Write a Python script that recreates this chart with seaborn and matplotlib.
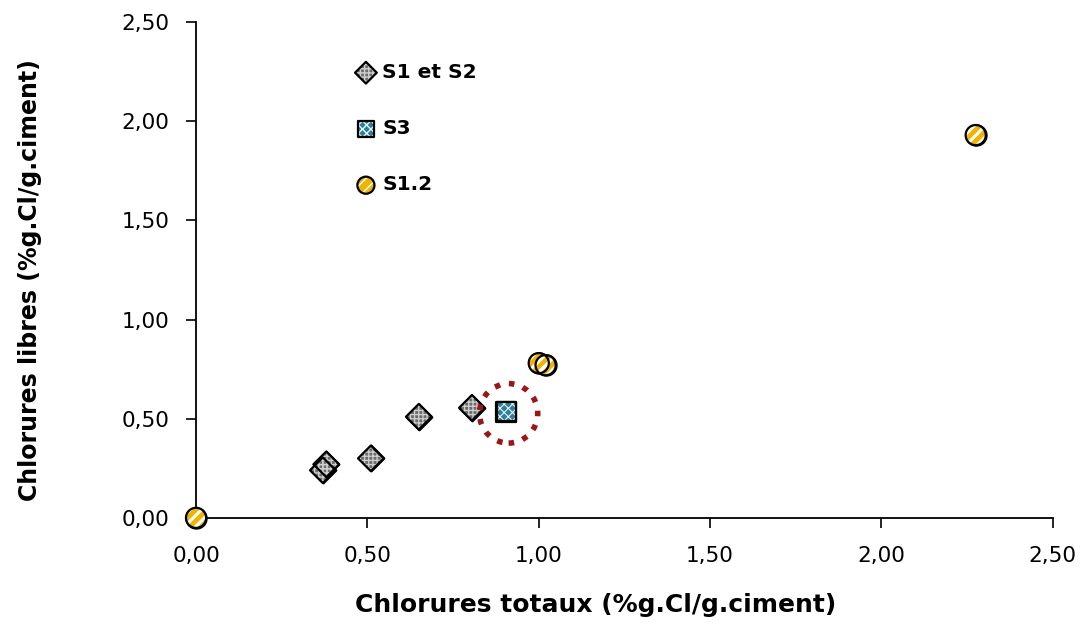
import matplotlib
matplotlib.use("Agg")
import matplotlib.pyplot as plt
import seaborn as sns
from matplotlib.ticker import FuncFormatter, MultipleLocator
from matplotlib.patches import Ellipse
from matplotlib.legend_handler import HandlerTuple

# data
s12_x = [0.37, 0.38, 0.51, 0.65, 0.805]
s12_y = [0.24, 0.27, 0.30, 0.51, 0.555]
s3_x = [0.905]
s3_y = [0.535]
s1_2_x = [0.0, 1.0, 1.02, 2.275]
s1_2_y = [0.0, 0.78, 0.77, 1.93]
labels = ["S1 et S2", "S3", "S1.2"]

sns.set_theme(style="white")
plt.rcParams['font.family'] = ['DejaVu Sans']
plt.rcParams['text.color'] = 'black'
plt.rcParams['axes.labelcolor'] = 'black'

fig = plt.figure(figsize=(10.91, 6.3), dpi=100)
ax = fig.add_axes([0.1797, 0.178, 0.7853, 0.787])


def series(x, y, marker, size, face, hatch, hatch_color, hatch_lw, z):
    h_fill = ax.scatter(x, y, marker=marker, s=size, facecolor=face, edgecolor='none',
                        linewidth=0, zorder=z, clip_on=False)
    with plt.rc_context({'hatch.color': hatch_color, 'hatch.linewidth': hatch_lw}):
        h_hatch = ax.scatter(x, y, marker=marker, s=size, facecolor='none',
                             edgecolor=hatch_color, linewidth=0, hatch=hatch,
                             zorder=z + 0.1, clip_on=False)
    h_edge = ax.scatter(x, y, marker=marker, s=size, facecolor='none', edgecolor='black',
                        linewidth=1.6, zorder=z + 0.2, clip_on=False)
    return (h_fill, h_hatch, h_edge)


# base layer drawn via seaborn
sns.scatterplot(x=s12_x, y=s12_y, ax=ax, marker="D", s=170, color="#6e6e6e",
                edgecolor="black", linewidth=1.6, zorder=2, legend=False, clip_on=False)
sns.scatterplot(x=s3_x, y=s3_y, ax=ax, marker="s", s=190, color="#2b7f99",
                edgecolor="black", linewidth=1.6, zorder=2, legend=False, clip_on=False)
sns.scatterplot(x=s1_2_x, y=s1_2_y, ax=ax, marker="o", s=210, color="#f0b400",
                edgecolor="black", linewidth=1.6, zorder=2, legend=False, clip_on=False)

h1 = series(s12_x, s12_y, "D", 170, "#6e6e6e", "++++", "#cfcfcf", 0.9, 3)
h2 = series(s3_x, s3_y, "s", 190, "#2b7f99", "xxxx", "#e8f4f8", 0.8, 3)
h3 = series(s1_2_x, s1_2_y, "o", 210, "#f0b400", "///", "white", 2.2, 3)

# dotted highlight circle around S3
circ = Ellipse((0.912, 0.527), width=0.17, height=0.30, fill=False,
               edgecolor="#9b1717", linewidth=4, linestyle=(0, (1, 1.6)),
               zorder=4, clip_on=False)
ax.add_patch(circ)

ax.set_xlim(0, 2.5)
ax.set_ylim(0, 2.5)
ax.xaxis.set_major_locator(MultipleLocator(0.5))
ax.yaxis.set_major_locator(MultipleLocator(0.5))
fmt = FuncFormatter(lambda v, p: f"{v:.2f}".replace('.', ','))
ax.xaxis.set_major_formatter(fmt)
ax.yaxis.set_major_formatter(fmt)
ax.tick_params(axis='both', labelsize=15.5, length=7, width=1.2, direction='out',
               bottom=True, left=True, colors='black')
ax.tick_params(axis='x', pad=13)
ax.tick_params(axis='y', pad=12)
for side in ['top', 'right']:
    ax.spines[side].set_visible(False)
for side in ['left', 'bottom']:
    ax.spines[side].set_color('black')
    ax.spines[side].set_linewidth(1.3)

ax.set_xlabel("Chlorures totaux (%g.Cl/g.ciment)", fontsize=18, fontweight='bold')
ax.set_ylabel("Chlorures libres (%g.Cl/g.ciment)", fontsize=17, fontweight='bold')
ax.xaxis.set_label_coords(0.466, -0.152)
ax.yaxis.set_label_coords(-0.18, 0.48)

leg = ax.legend([h1, h2, h3], labels, handler_map={tuple: HandlerTuple(ndivide=1)},
                loc='upper left', bbox_to_anchor=(0.163, 0.954), frameon=False,
                fontsize=14.5, labelspacing=1.85, handletextpad=0.2, markerscale=0.85,
                handlelength=1.2)
for t in leg.get_texts():
    t.set_fontweight('bold')

fig.savefig("out.png", dpi=100)
